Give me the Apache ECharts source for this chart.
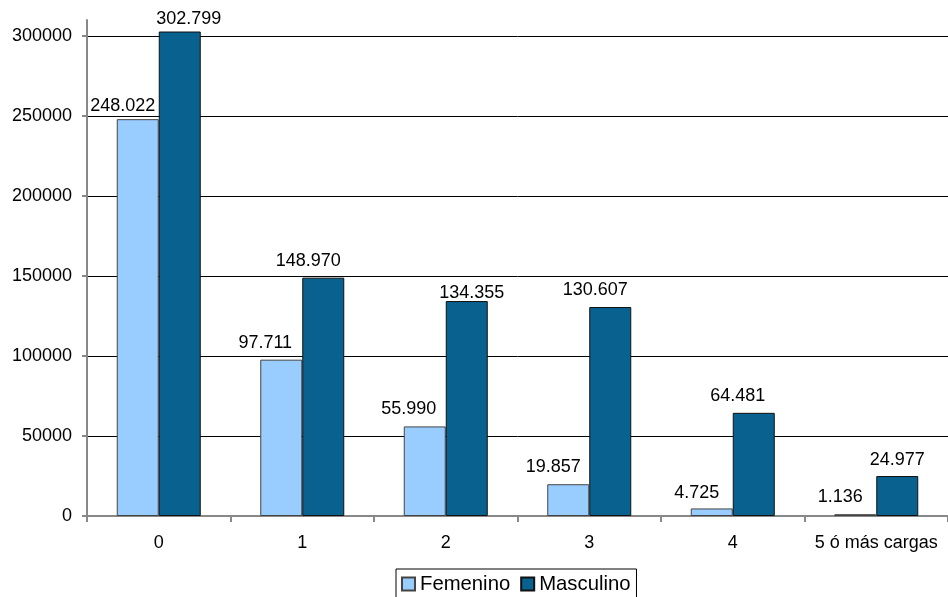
<!DOCTYPE html>
<html>
<head>
<meta charset="utf-8">
<script src="https://cdn.jsdelivr.net/npm/echarts@6/dist/echarts.min.js"></script>
<style>
html,body{margin:0;padding:0;background:#fff;}
#chart{width:948px;height:597px;}
</style>
</head>
<body>
<div id="chart"></div>
<script>
const categories = ['0', '1', '2', '3', '4', '5 ó más cargas'];
const femenino = [248022, 97711, 55990, 19857, 4725, 1136];
const masculino = [302799, 148970, 134355, 130607, 64481, 24977];
const yTicks = [0, 50000, 100000, 150000, 200000, 250000, 300000];
const seriesNames = ['Femenino', 'Masculino'];

// label nudges (Excel-like placement), pixels
const femShift = [[-15, 4], [-16, 0], [-16, 0], [-15, 0], [-15, 2], [-15, 0]];
const masShift = [[9, 5], [-15, 0], [5, 9], [-15, 0], [-16, 0], [0, 1]];

const FONT = 'Liberation Sans, Arial, sans-serif';

function fmt(v) {
  const s = String(v);
  return s.replace(/\B(?=(\d{3})+(?!\d))/g, '.');
}

function buildData(vals, shifts) {
  return vals.map((v, i) => ({
    value: v,
    label: { offset: shifts[i] }
  }));
}

const labelBase = {
  show: true,
  position: 'top',
  distance: 8,
  color: '#000',
  fontFamily: FONT,
  fontSize: 18,
  formatter: p => fmt(p.value)
};

const chart = echarts.init(document.getElementById('chart'), null, { renderer: 'canvas' });
chart.setOption({
  animation: false,
  backgroundColor: '#fff',
  grid: { left: 87, top: 20, width: 869, height: 496, containLabel: false },
  legend: {
    data: seriesNames,
    icon: 'rect',
    left: 396,
    top: 569,
    orient: 'horizontal',
    itemWidth: 13,
    itemHeight: 13,
    itemGap: 10,
    padding: [5, 6, 6, 5],
    borderColor: '#000',
    borderWidth: 1,
    textStyle: { fontFamily: FONT, fontSize: 20.3, color: '#000' }
  },
  xAxis: {
    type: 'category',
    data: categories,
    axisLine: { lineStyle: { color: '#888', width: 2 } },
    axisTick: { show: true, length: 6, interval: 0, lineStyle: { color: '#888', width: 2 } },
    axisLabel: { color: '#000', fontFamily: FONT, fontSize: 18, margin: 18, interval: 0 },
    splitLine: { show: false }
  },
  yAxis: {
    type: 'value',
    min: 0,
    max: 310000,
    interval: 50000,
    axisLine: { show: true, lineStyle: { color: '#888', width: 2 } },
    axisTick: { show: true, length: 5, customValues: yTicks, lineStyle: { color: '#888', width: 2 } },
    axisLabel: { color: '#000', fontFamily: FONT, fontSize: 18, margin: 15, customValues: yTicks, formatter: v => String(v) },
    splitLine: { show: true, showMinLine: false, lineStyle: { color: '#000', width: 1 } }
  },
  series: [
    {
      name: seriesNames[0],
      type: 'bar',
      barWidth: 42,
      barGap: '0%',
      data: buildData(femenino, femShift),
      itemStyle: { color: '#99CCFF', borderColor: '#444', borderWidth: 1 },
      label: labelBase
    },
    {
      name: seriesNames[1],
      type: 'bar',
      barWidth: 42,
      barGap: '0%',
      data: buildData(masculino, masShift),
      itemStyle: { color: '#08618F', borderColor: '#111', borderWidth: 1 },
      label: labelBase
    }
  ]
});
</script>
</body>
</html>
